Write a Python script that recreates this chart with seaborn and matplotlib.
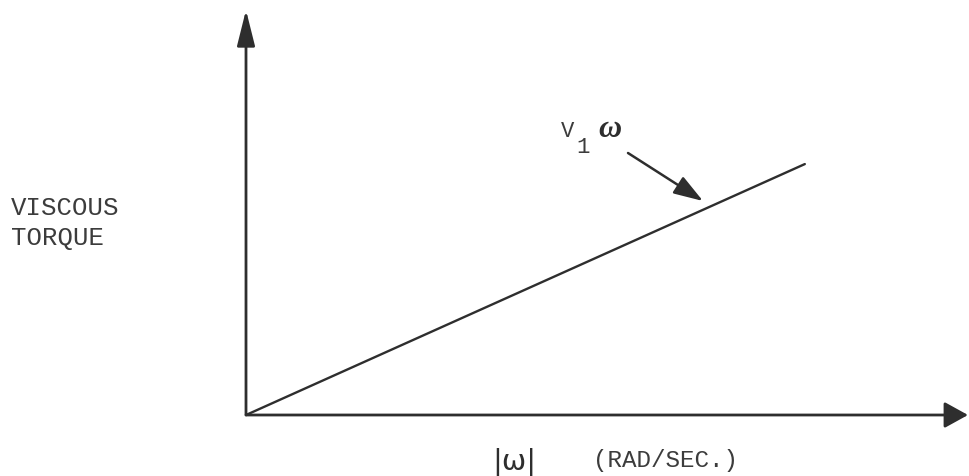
import matplotlib
matplotlib.use("Agg")
import matplotlib.pyplot as plt
import numpy as np
import pandas as pd
import seaborn as sns

# data: viscous torque grows linearly with |omega|
omega = [0.0, 10.0]
torque = [0.0, 10.0]
x_max = 12.92
y_max = 16.14

W, H = 970, 476

sns.set_style("white")
plt.rcParams["font.family"] = ["Liberation Mono", "DejaVu Sans Mono"]

fig = plt.figure(figsize=(W / 100, H / 100), dpi=100)
ax = fig.add_axes([246 / W, (H - 415) / H, (968 - 246) / W, (415 - 10) / H])
ax.set_xlim(0, x_max)
ax.set_ylim(0, y_max)
ax.axis("off")

ink = "#2e2e2e"
txt = "#3c3c3c"

df = pd.DataFrame({"omega": omega, "torque": torque})
sns.lineplot(data=df, x="omega", y="torque", color=ink, lw=1.7, ax=ax)

# axes drawn as arrows
ax.annotate("", xy=(0, 1), xytext=(0, 0), xycoords="axes fraction",
            arrowprops=dict(arrowstyle="-|>,head_length=2.2,head_width=0.55",
                            mutation_scale=10, color=ink, lw=2, shrinkA=0, shrinkB=0))
ax.annotate("", xy=(1, 0), xytext=(0, 0), xycoords="axes fraction",
            arrowprops=dict(arrowstyle="-|>,head_length=1.45,head_width=0.8",
                            mutation_scale=10, color=ink, lw=2, shrinkA=0, shrinkB=0))


def px(x, y):
    return (x, H - y)


# pointer to the line
ax.annotate("", xy=px(703, 201), xytext=px(628, 153), xycoords="figure pixels",
            textcoords="figure pixels",
            arrowprops=dict(arrowstyle="-|>,head_length=1.8,head_width=0.6",
                            mutation_scale=10, color=ink, lw=1.8, shrinkA=0, shrinkB=0))

fig.text(*px(561, 137), "V", transform=None, fontsize=16, color=txt, va="baseline")
fig.text(*px(576, 153), "1", transform=None, fontsize=16, color=txt, va="baseline")
fig.text(*px(598, 137), "ω", transform=None, fontsize=23, color=ink, va="baseline",
         style="italic", fontweight="bold", family=["Liberation Serif"])

fig.text(*px(11, 215), "VISCOUS", transform=None, fontsize=18.5, color=txt, va="baseline")
fig.text(*px(11, 245), "TORQUE", transform=None, fontsize=18.5, color=txt, va="baseline")

fig.text(*px(492, 469), "|ω|", transform=None, fontsize=21, color=ink, va="baseline",
         family=["DejaVu Sans"])
fig.text(*px(593, 467), "(RAD/SEC.)", transform=None, fontsize=17.5, color=txt,
         va="baseline")

fig.savefig("out.png", dpi=100)
